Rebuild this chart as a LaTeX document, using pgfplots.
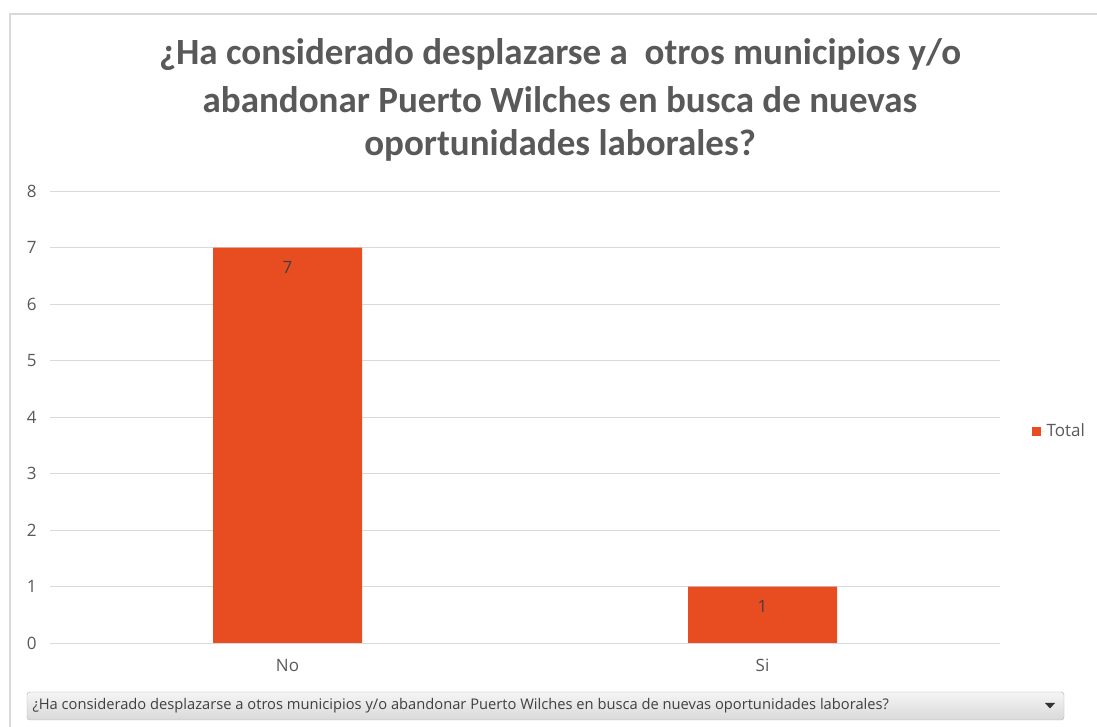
\documentclass[border=0pt]{standalone}
\usepackage{pgfplots}
\pgfplotsset{compat=1.18}
\usepackage{fontspec}
\setmainfont{Carlito}
\newfontfamily\uifont{Open Sans}
\definecolor{barc}{RGB}{232,77,34}
\definecolor{txt}{RGB}{89,89,89}
\definecolor{gridc}{RGB}{217,217,217}
\definecolor{lab}{RGB}{64,64,64}
\begin{document}
\begin{tikzpicture}
\useasboundingbox (0bp,0bp) rectangle (1097bp,727bp);
\fill[white] (0bp,0bp) rectangle (1097bp,727bp);
\draw[gridc,line width=1.2bp] (10bp,0bp) -- (10bp,713bp) -- (1097bp,713bp);
% title
\node[txt,font=\fontsize{37bp}{42bp}\selectfont\bfseries] at (560bp,672bp) {¿Ha considerado desplazarse a \ otros municipios y/o};
\node[txt,font=\fontsize{37bp}{42bp}\selectfont\bfseries] at (560bp,627bp) {abandonar Puerto Wilches en busca de nuevas};
\node[txt,font=\fontsize{37bp}{42bp}\selectfont\bfseries] at (560bp,582bp) {oportunidades laborales?};
\begin{axis}[
  at={(50bp,84bp)}, anchor=south west,
  scale only axis, width=950bp, height=452bp,
  ymin=0, ymax=8, xmin=-0.5, xmax=1.5,
  ytick={0,1,...,8}, xtick={0,1}, xticklabels={No,Si},
  ymajorgrids, grid style={gridc, line width=1bp},
  axis line style={draw=none},
  major tick length=0pt,
  tick label style={txt, font=\uifont\fontsize{17bp}{20bp}\selectfont},
  /pgf/number format/assume math mode=true,
  yticklabel style={xshift=-10bp},
  xticklabel style={yshift=-13bp},
  ybar, bar width=149bp,
  nodes near coords,
  every node near coord/.append style={anchor=north, yshift=-10bp, lab, font=\uifont\fontsize{17bp}{20bp}\selectfont},
  legend style={at={(1.03,0.469)}, anchor=west, draw=none, fill=none, font=\uifont\fontsize{17bp}{20bp}\selectfont\color{txt}},
  legend image code/.code={\fill[barc] (0bp,-4.5bp) rectangle (9bp,4.5bp); \path (0bp,0bp) -- (13bp,0bp);},
]
\addplot[fill=barc, draw=none] coordinates {(0,7) (1,1)};
\addlegendentry{Total}
\end{axis}
% filter button
\shade[top color=gray!8, bottom color=gray!30, draw=gray!60, rounded corners=3bp] (27bp,7bp) rectangle (1064bp,35bp);
\node[anchor=west, text=lab, font=\uifont\fontsize{14.7bp}{17bp}\selectfont] at (29bp,21bp) {¿Ha considerado desplazarse a otros municipios y/o abandonar Puerto Wilches en busca de nuevas oportunidades laborales?};
\fill[black!80] (1045bp,24bp) -- (1055bp,24bp) -- (1050bp,18.5bp) -- cycle;
\end{tikzpicture}
\end{document}
